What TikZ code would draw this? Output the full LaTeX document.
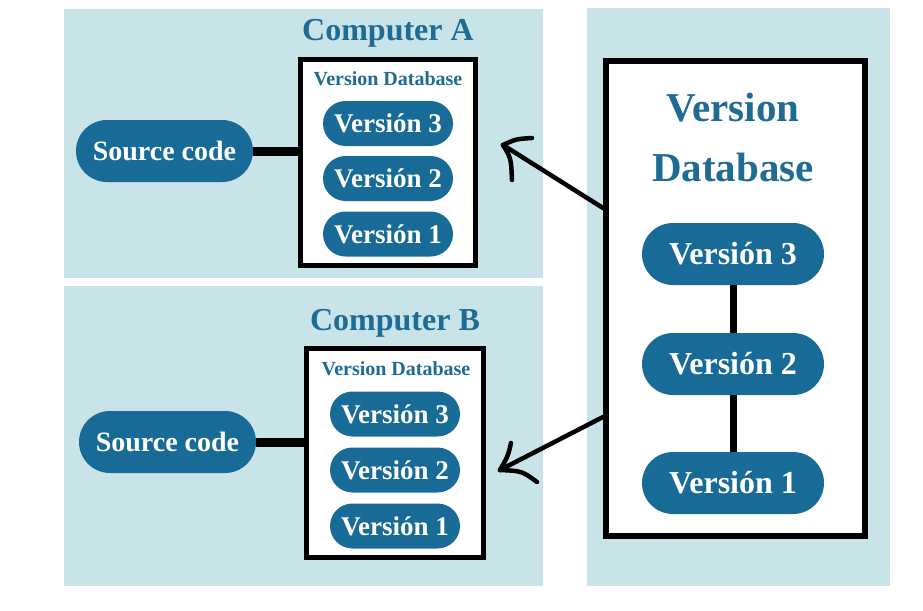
\documentclass[tikz,border=0pt]{standalone}
\usepackage{fontspec}
\setmainfont{Liberation Serif}
\usetikzlibrary{calc}
\definecolor{panelblue}{RGB}{200,228,233}
\definecolor{pillblue}{RGB}{25,107,151}
\definecolor{titleblue}{RGB}{30,107,148}
\begin{document}
\begin{tikzpicture}[x=1pt,y=-1pt,
  panel/.style={fill=panelblue,draw=none},
  dbbox/.style={draw=black,fill=white,line width=5pt,inner sep=0pt},
  pill/.style={fill=pillblue,text=white,inner sep=0pt,font=\bfseries\fontsize{27}{31}\selectfont},
  smallpill/.style={pill,minimum width=130pt,minimum height=45pt,rounded corners=22.5pt},
  srcpill/.style={pill,minimum width=177pt,minimum height=62pt,rounded corners=31pt,font=\bfseries\fontsize{28}{32}\selectfont},
  bigpill/.style={pill,minimum width=182pt,minimum height=62pt,rounded corners=31pt,font=\bfseries\fontsize{32}{36}\selectfont},
  title/.style={text=titleblue,inner sep=0pt,font=\bfseries\fontsize{32}{36}\selectfont},
  dbtitle/.style={text=titleblue,inner sep=0pt,font=\bfseries\fontsize{20}{24}\selectfont},
  link/.style={draw=black,line width=9pt},
  chain/.style={draw=black,line width=7pt},
  sketch/.style={draw=black,line width=4.5pt,line cap=round,line join=round}]
\useasboundingbox (0,0) rectangle (923,610);
\fill[white] (0,0) rectangle (923,610);

% background panels
\fill[panel] (64,9) rectangle (543,278);
\fill[panel] (64,286) rectangle (543,586);
\fill[panel] (587,8) rectangle (890,586);

% ---- Computer A ----
\node[title] (titleA) at (388,33) {Computer A};
\node[dbbox,minimum width=175pt,minimum height=206pt] (boxA) at (388,162.5) {};
\node[dbtitle] (dbA) at (388,79) {Version Database};
\node[smallpill] (a3) at (388,123.5) {Versión 3};
\node[smallpill] (a2) at (388,178.5) {Versión 2};
\node[smallpill] (a1) at (388,234) {Versión 1};
\node[srcpill] (srcA) at (164.5,151) {Source code};
\draw[link] (srcA.east) -- (srcA.east -| boxA.west);

% ---- Computer B ----
\node[title] (titleB) at (395,323) {Computer B};
\node[dbbox,minimum width=177pt,minimum height=209pt] (boxB) at (395,453) {};
\node[dbtitle] (dbB) at (396,369) {Version Database};
\node[smallpill] (b3) at (395,414) {Versión 3};
\node[smallpill] (b2) at (395,470) {Versión 2};
\node[smallpill] (b1) at (395,526) {Versión 1};
\node[srcpill] (srcB) at (167.5,442) {Source code};
\draw[link] (srcB.east) -- (srcB.east -| boxB.west);

% ---- central version database ----
\node[dbbox,line width=6pt,minimum width=259pt,minimum height=475pt] (bigbox) at (735.5,298.5) {};
\node[title,align=center,font=\bfseries\fontsize{41}{60}\selectfont] (bigtitle) at (733,137) {Version\\Database};
\node[bigpill] (v3) at (733,254) {Versión 3};
\node[bigpill] (v2) at (733,364) {Versión 2};
\node[bigpill] (v1) at (733,483) {Versión 1};
\draw[chain] (v3.south) -- (v2.north);
\draw[chain] (v2.south) -- (v1.north);

% ---- hand-drawn arrows to the computers ----
\coordinate (sA) at ([yshift=90.5pt]bigbox.west);
\coordinate (sB) at ([yshift=-118.5pt]bigbox.west);
\coordinate (tipA) at (503,145);
\coordinate (tipB) at (500,470);
\draw[sketch] (sA) -- (tipA);
\draw[sketch] (tipA) .. controls (516,139) .. (532,138);
\draw[sketch] (tipA) .. controls (511,158) .. (512,180);
\draw[sketch] (sB) -- (tipB);
\draw[sketch] (tipB) .. controls (508,456) .. (511,443);
\draw[sketch] (tipB) .. controls (522,471) .. (537,482);
\end{tikzpicture}
\end{document}
